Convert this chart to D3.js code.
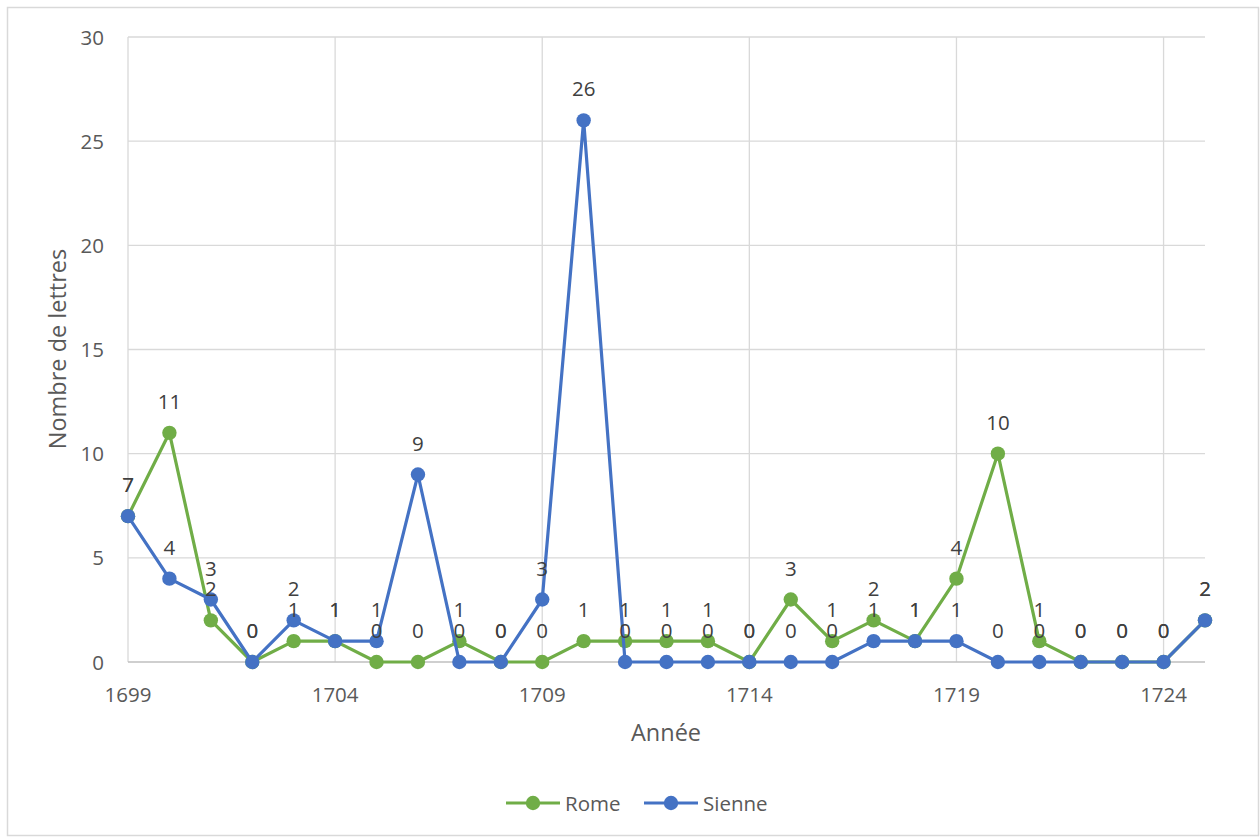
<!DOCTYPE html>
<html>
  <head>
    <meta charset="utf-8">
    <script type="text/javascript" src="https://cdn.jsdelivr.net/npm/d3@7"></script>
    <style>
      body { margin: 0; background: #fff; }
      text { font-family: "Open Sans", "Noto Sans", sans-serif; fill: #595959; }
    </style>
  </head>
<body>
  <script type="text/javascript">
    var w = 1260;
    var h = 837;
    var margin = {top: 37, bottom: 175, right: 55, left: 128};

    var years = [1699, 1700, 1701, 1702, 1703, 1704, 1705, 1706, 1707, 1708, 1709, 1710, 1711,
      1712, 1713, 1714, 1715, 1716, 1717, 1718, 1719, 1720, 1721, 1722, 1723, 1724, 1725];
    var rome = [7, 11, 2, 0, 1, 1, 0, 0, 1, 0, 0, 1, 1, 1, 1, 0, 3, 1, 2, 1, 4, 10, 1, 0, 0, 0, 2];
    var sienne = [7, 4, 3, 0, 2, 1, 1, 9, 0, 0, 3, 26, 0, 0, 0, 0, 0, 0, 1, 1, 1, 0, 0, 0, 0, 0, 2];
    var xTicks = [1699, 1704, 1709, 1714, 1719, 1724];
    var yTicks = [0, 5, 10, 15, 20, 25, 30];

    var series = [
      {name: "Rome", color: "#70AD47", values: rome},
      {name: "Sienne", color: "#4472C4", values: sienne}
    ];

    var svg = d3.select("body")
      .append("svg")
      .attr("width", w)
      .attr("height", h);

    // outer chart border
    svg.append("rect")
      .attr("x", 7.5).attr("y", 7.5)
      .attr("width", 1251).attr("height", 828)
      .attr("fill", "none")
      .attr("stroke", "#d9d9d9")
      .attr("stroke-width", 1.5);

    var xScale = d3.scaleLinear()
      .domain([1699, 1725])
      .range([margin.left, w - margin.right]);

    var yScale = d3.scaleLinear()
      .domain([0, 30])
      .range([h - margin.bottom, margin.top]);

    // horizontal grid
    svg.selectAll("line.hgrid")
      .data(yTicks.slice(1))
      .enter()
      .append("line")
      .attr("stroke", "#d9d9d9")
      .attr("stroke-width", 1.3)
      .attr("x1", xScale(1699))
      .attr("x2", xScale(1725))
      .attr("y1", function (d) { return yScale(d); })
      .attr("y2", function (d) { return yScale(d); });

    // vertical grid
    svg.selectAll("line.vgrid")
      .data(xTicks)
      .enter()
      .append("line")
      .attr("stroke", "#d9d9d9")
      .attr("stroke-width", 1.3)
      .attr("x1", function (d) { return xScale(d); })
      .attr("x2", function (d) { return xScale(d); })
      .attr("y1", yScale(30))
      .attr("y2", yScale(0));

    // x axis line
    svg.append("line")
      .attr("stroke", "#bfbfbf")
      .attr("stroke-width", 1.3)
      .attr("x1", xScale(1699))
      .attr("x2", xScale(1725))
      .attr("y1", yScale(0))
      .attr("y2", yScale(0));

    // tick labels
    svg.selectAll("text.ytick")
      .data(yTicks)
      .enter()
      .append("text")
      .attr("x", 104)
      .attr("y", function (d) { return yScale(d) + 7.5; })
      .attr("text-anchor", "end")
      .style("font-size", "20.5px")
      .text(function (d) { return d; });

    svg.selectAll("text.xtick")
      .data(xTicks)
      .enter()
      .append("text")
      .attr("x", function (d) { return xScale(d); })
      .attr("y", yScale(0) + 40)
      .attr("text-anchor", "middle")
      .style("font-size", "20.5px")
      .text(function (d) { return d; });

    // axis titles
    svg.append("text")
      .attr("x", 666)
      .attr("y", 741)
      .attr("text-anchor", "middle")
      .style("font-size", "23.5px")
      .text("Année");

    svg.append("text")
      .attr("transform", "translate(66," + 349 + ") rotate(-90)")
      .attr("text-anchor", "middle")
      .style("font-size", "23.5px")
      .text("Nombre de lettres");

    var line = d3.line()
      .x(function (d, i) { return xScale(years[i]); })
      .y(function (d) { return yScale(d); });

    series.forEach(function (s) {
      svg.append("path")
        .datum(s.values)
        .attr("fill", "none")
        .attr("stroke", s.color)
        .attr("stroke-width", 3.2)
        .attr("stroke-linejoin", "round")
        .attr("d", line);

      svg.selectAll("circle." + s.name)
        .data(s.values)
        .enter()
        .append("circle")
        .attr("fill", s.color)
        .attr("cx", function (d, i) { return xScale(years[i]); })
        .attr("cy", function (d) { return yScale(d); })
        .attr("r", 7.2);
    });

    series.forEach(function (s) {
      svg.selectAll("text.lbl." + s.name)
        .data(s.values)
        .enter()
        .append("text")
        .attr("x", function (d, i) { return xScale(years[i]); })
        .attr("y", function (d) { return yScale(d) - 24; })
        .attr("text-anchor", "middle")
        .style("font-size", "20.5px")
        .style("fill", "#404040")
        .text(function (d) { return d; });
    });

    // legend
    var legend = svg.selectAll("g.legend")
      .data(series)
      .enter()
      .append("g")
      .attr("transform", function (d, i) { return "translate(" + (506 + i * 138) + ",803)"; });

    legend.append("line")
      .attr("x1", 0).attr("x2", 54)
      .attr("y1", 0).attr("y2", 0)
      .attr("stroke", function (d) { return d.color; })
      .attr("stroke-width", 3.2);

    legend.append("circle")
      .attr("cx", 27).attr("cy", 0).attr("r", 7.2)
      .attr("fill", function (d) { return d.color; });

    legend.append("text")
      .attr("x", 59)
      .attr("y", 7.5)
      .style("font-size", "20.5px")
      .text(function (d) { return d.name; });
  </script>
  </body>
</html>
